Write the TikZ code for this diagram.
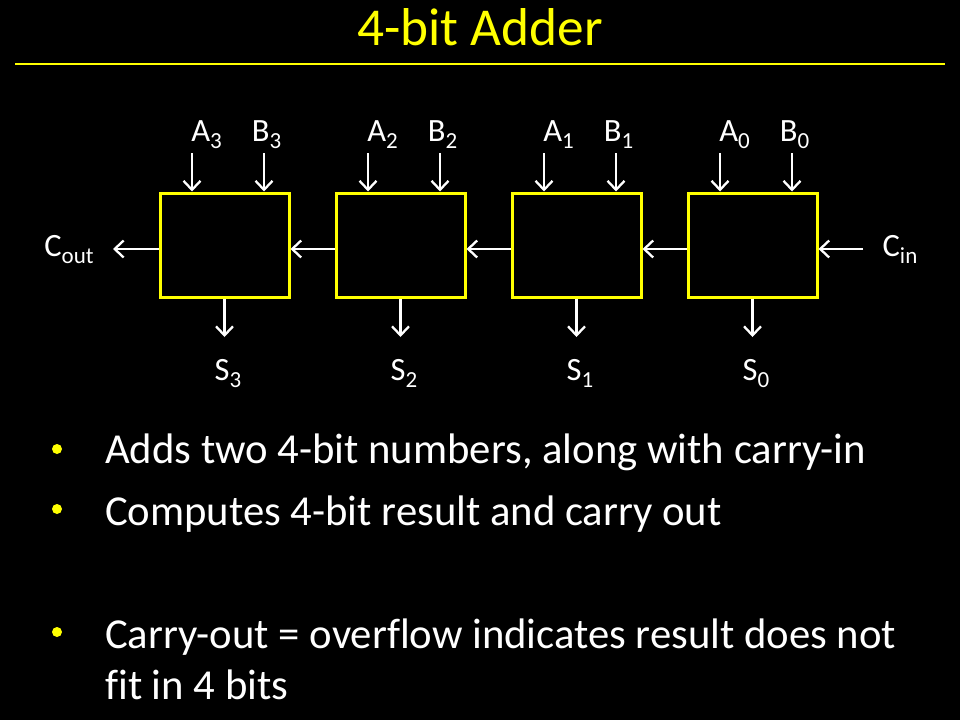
\documentclass[tikz,border=0pt]{standalone}
\usepackage{fontspec}
\setmainfont{Carlito}[Ligatures=NoCommon]
\usetikzlibrary{arrows.meta}
\definecolor{slideyellow}{RGB}{255,255,0}
\newcommand{\lowidx}[1]{\raisebox{-7pt}{\fontsize{23}{24}\selectfont #1}}
\tikzstyle{adder} = [rectangle, draw=slideyellow, line width=3pt, minimum width=129pt, minimum height=104pt, inner sep=0pt]
\tikzstyle{sig} = [text=white, font=\fontsize{32.5}{38}\selectfont, inner sep=0pt, anchor=base]
\tikzstyle{heading} = [text=slideyellow, font=\fontsize{53.3}{64}\selectfont, inner sep=0pt, anchor=base]
\tikzstyle{item} = [text=white, font=\fontsize{42.7}{52}\selectfont, inner sep=0pt, anchor=base west]
\tikzstyle{bulletdot} = [circle, fill=slideyellow, minimum size=10pt, inner sep=0pt]
\tikzstyle{arrow} = [white, line width=2.3pt, -{Straight Barb[length=9pt,width=17pt,line width=2.3pt]}]

\begin{document}
\begin{tikzpicture}[x=1pt, y=-1pt]

\fill[black] (0,0) rectangle (960,720);
\useasboundingbox (0,0) rectangle (960,720);

% Title
\node[heading] (title) at (480,45) {4-bit Adder};
\draw[slideyellow, line width=1.2pt] (15,64) -- (945,64);

% Adder blocks, inputs and sums (bit 0 on the right)
\foreach \i in {0,...,3}{
  \pgfmathsetmacro{\cx}{752.5-176*\i}
  \node[adder] (add\i) at (\cx,245) {};
  \coordinate (a\i) at (\cx-32.5,153);
  \coordinate (b\i) at (\cx+39.5,153);
  \coordinate (s\i) at (\cx,337);
  \node[sig] (labA\i) at (\cx-18,141) {A\lowidx{\i}};
  \node[sig] (labB\i) at (\cx+42,141) {B\lowidx{\i}};
  \node[sig] (labS\i) at (\cx+3.5,380) {S\lowidx{\i}};
  \draw [arrow] (a\i) -- (add\i.north -| a\i);
  \draw [arrow] (b\i) -- (add\i.north -| b\i);
  \draw [arrow] (add\i) -- (s\i);
}

% Carry chain
\node[sig] (labCin) at (900,256) {C\lowidx{in}};
\node[sig] (labCout) at (69,256) {C\lowidx{out}};
\coordinate (cin) at (863,249);
\coordinate (cout) at (113,249);
\draw [arrow] (cin) -- ([yshift=-4pt]add0.east);
\foreach \i/\j in {0/1,1/2,2/3}
  \draw [arrow] ([yshift=-4pt]add\i.west) -- ([yshift=-4pt]add\j.east);
\draw [arrow] ([yshift=-4pt]add3.west) -- (cout);

% Bullet points
\node[bulletdot] (dot1) at (57,449) {};
\node[item] (txt1) at (105,463) {Adds two 4-bit numbers, along with carry-in};
\node[bulletdot] (dot2) at (57,509) {};
\node[item] (txt2) at (105,525) {Computes 4-bit result and carry out};
\node[bulletdot] (dot3) at (57,632) {};
\node[item] (txt3) at (105,648) {Carry-out = overflow indicates result does not};
\node[item] (txt3b) at (105,699) {fit in 4 bits};

\end{tikzpicture}
\end{document}
